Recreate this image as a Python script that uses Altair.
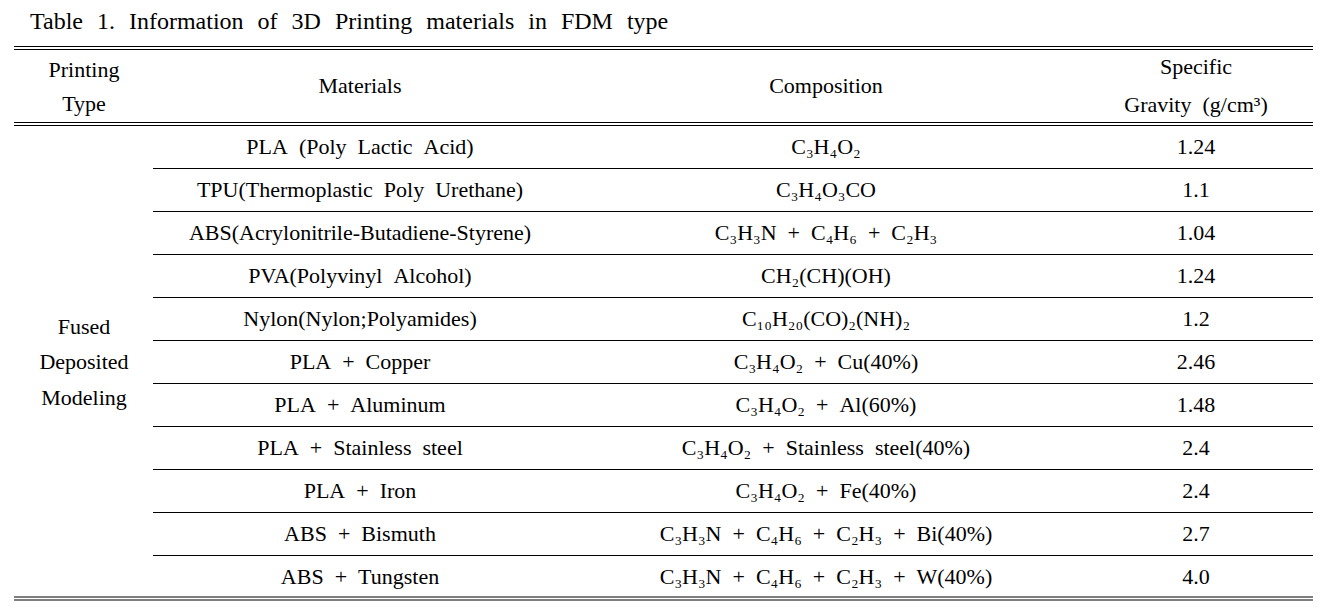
import altair as alt
import pandas as pd

# wide word spacing as in the original typesetting
S = "\u2002"
ST = "\u2002\u200a"

# ---------------- data ----------------
title_text = f"Table{ST}1.{ST}Information{ST}of{ST}3D{ST}Printing{ST}materials{ST}in{ST}FDM{ST}type"
header_type = ["Printing", "Type"]
header_materials = ["Materials"]
header_composition = ["Composition"]
header_gravity = ["Specific", f"Gravity{S}(g/cm³)"]
printing_type = ["Fused", "Deposited", "Modeling"]
materials = [
    f"PLA{S}(Poly{S}Lactic{S}Acid)",
    f"TPU(Thermoplastic{S}Poly{S}Urethane)",
    "ABS(Acrylonitrile-Butadiene-Styrene)",
    f"PVA(Polyvinyl{S}Alcohol)",
    "Nylon(Nylon;Polyamides)",
    f"PLA{S}+{S}Copper",
    f"PLA{S}+{S}Aluminum",
    f"PLA{S}+{S}Stainless{S}steel",
    f"PLA{S}+{S}Iron",
    f"ABS{S}+{S}Bismuth",
    f"ABS{S}+{S}Tungsten",
]
compositions = [
    "C₃H₄O₂",
    "C₃H₄O₃CO",
    f"C₃H₃N{S}+{S}C₄H₆{S}+{S}C₂H₃",
    "CH₂(CH)(OH)",
    "C₁₀H₂₀(CO)₂(NH)₂",
    f"C₃H₄O₂{S}+{S}Cu(40%)",
    f"C₃H₄O₂{S}+{S}Al(60%)",
    f"C₃H₄O₂{S}+{S}Stainless{S}steel(40%)",
    f"C₃H₄O₂{S}+{S}Fe(40%)",
    f"C₃H₃N{S}+{S}C₄H₆{S}+{S}C₂H₃{S}+{S}Bi(40%)",
    f"C₃H₃N{S}+{S}C₄H₆{S}+{S}C₂H₃{S}+{S}W(40%)",
]
gravity = ["1.24", "1.1", "1.04", "1.24", "1.2", "2.46", "1.48", "2.4", "2.4", "2.7", "4.0"]

# ---------------- layout ----------------
W, H = 1314, 600
ROW_PX = 43.0
ROW0_PX = 139.0           # plot-y of first data row centre
col_x = [76, 352, 818, 1188]
left_x, right_x, inner_x = 6, 1305, 145
title_x = 22
gap = 3.0 / ROW_PX
n = len(materials)

def r_of(px):
    return (px - ROW0_PX) / ROW_PX

title_r = r_of(14)

rows = []
def add_lines(lines, x, centre_px, step_px):
    k = len(lines)
    for j, t in enumerate(lines):
        rows.append({"x": x, "r": r_of(centre_px + (j - (k - 1) / 2) * step_px), "t": t})

add_lines(header_type, col_x[0], 79, 34)
add_lines(header_materials, col_x[1], 78, 34)
add_lines(header_composition, col_x[2], 78, 34)
add_lines(header_gravity, col_x[3], 77.5, 38)
add_lines(printing_type, col_x[0], ROW0_PX + ROW_PX * (n - 1) / 2, 35.5)
for i in range(n):
    rows.append({"x": col_x[1], "r": i, "t": materials[i]})
    rows.append({"x": col_x[2], "r": i, "t": compositions[i]})
    rows.append({"x": col_x[3], "r": i, "t": gravity[i]})
text_df = pd.DataFrame(rows)

top_r = r_of(38.5)
head_bot = -0.5
bottom_r = n - 0.5
rules = [
    {"x": left_x, "x2": right_x, "r": top_r},
    {"x": left_x, "x2": right_x, "r": top_r + gap},
    {"x": left_x, "x2": right_x, "r": head_bot - gap},
    {"x": left_x, "x2": right_x, "r": head_bot},
    {"x": left_x, "x2": right_x, "r": bottom_r - gap / 2},
    {"x": left_x, "x2": right_x, "r": bottom_r + gap / 2},
]
for i in range(n - 1):
    rules.append({"x": inner_x, "x2": right_x, "r": i + 0.5})
rule_df = pd.DataFrame(rules)

xs = alt.Scale(domain=[0, W], nice=False, zero=False)
ys = alt.Scale(domain=[r_of(0), r_of(H)], reverse=True, nice=False, zero=False)

FONT = "Liberation Serif"

rule_layer = alt.Chart(rule_df).mark_rule(color="#000000", strokeWidth=1.2).encode(
    x=alt.X("x:Q", scale=xs, axis=None),
    x2="x2:Q",
    y=alt.Y("r:Q", scale=ys, axis=None),
)

text_layer = alt.Chart(text_df).mark_text(
    font=FONT, fontSize=22, color="#000000", align="center", baseline="middle"
).encode(
    x=alt.X("x:Q", scale=xs, axis=None),
    y=alt.Y("r:Q", scale=ys, axis=None),
    text="t:N",
)

title_df = pd.DataFrame([{"x": title_x, "r": title_r, "t": title_text}])
title_layer = alt.Chart(title_df).mark_text(
    font=FONT, fontSize=24, color="#000000", align="left", baseline="middle"
).encode(
    x=alt.X("x:Q", scale=xs, axis=None),
    y=alt.Y("r:Q", scale=ys, axis=None),
    text="t:N",
)

chart = alt.layer(rule_layer, text_layer, title_layer).properties(
    width=W, height=H, padding=0, autosize=alt.AutoSizeParams(type="none"),
    background="#ffffff",
).configure_view(stroke=None)

chart.save("out.html", embed_options={"renderer": "svg", "actions": False})
